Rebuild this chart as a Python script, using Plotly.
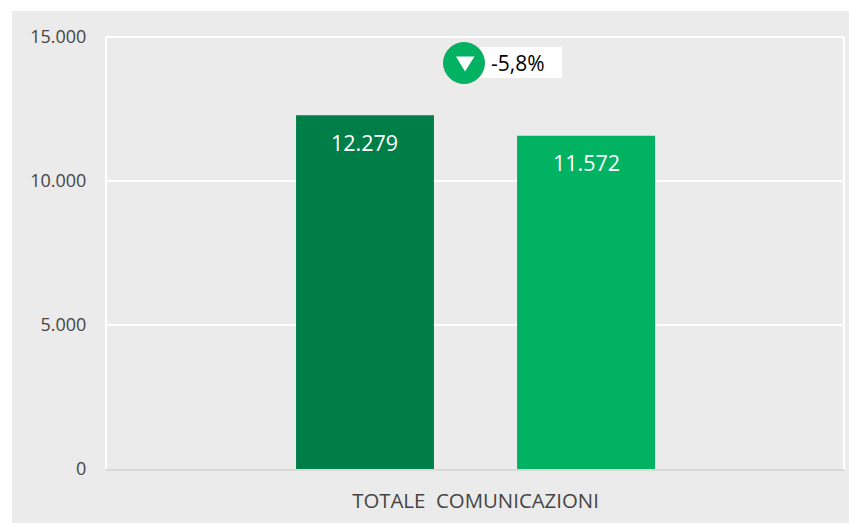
import plotly.graph_objects as go

categories = ["TOTALE  COMUNICAZIONI"]
series_names = ["Periodo precedente", "Periodo corrente"]
values_a = [12279]
values_b = [11572]
value_labels_a = ["12.279"]
value_labels_b = ["11.572"]
tick_vals = [0, 5000, 10000, 15000]
tick_text = ["0", "5.000", "10.000", "15.000"]
delta_label = "-5,8%"

W, H = 849, 523
L, R, T, B = 106, 844, 37, 469
FONT = "Open Sans"
TXT = "#454545"

def px(x):
    return (x - L) / (R - L)

def py(y):
    return (B - y) / (B - T)

fig = go.Figure()
annotations = []
for name, vals, labels, color, shift in [
    (series_names[0], values_a, value_labels_a, "#007E48", -111),
    (series_names[1], values_b, value_labels_b, "#00B262", 111),
]:
    fig.add_bar(
        x=categories, y=vals, name=name,
        marker=dict(color=color, line=dict(width=0)),
    )
    annotations.append(dict(
        x=categories[0], y=vals[0], xref="x", yref="y", text=labels[0],
        showarrow=False, xshift=shift, yshift=-27, yanchor="middle",
        font=dict(family=FONT, size=21.5, color="white"),
    ))

annotations.append(dict(
    xref="paper", yref="paper", x=px(488.5), y=py(63), xanchor="left", yanchor="middle",
    text=delta_label, showarrow=False,
    font=dict(family=FONT, size=21, color="#000000"),
))

shapes = [
    dict(type="rect", xref="paper", yref="paper", layer="below",
         x0=px(12), x1=px(849), y0=py(523), y1=py(11),
         fillcolor="#EBEBEB", line=dict(width=0)),
    dict(type="line", xref="paper", yref="paper", layer="below",
         x0=0, x1=0, y0=0, y1=1, line=dict(color="white", width=2)),
    dict(type="line", xref="paper", yref="paper", layer="below",
         x0=1, x1=1, y0=0, y1=1, line=dict(color="white", width=2)),
    dict(type="line", xref="paper", yref="paper", layer="below",
         x0=0, x1=1, y0=1, y1=1, line=dict(color="white", width=2)),
    dict(type="rect", xref="paper", yref="paper",
         x0=px(480), x1=px(562), y0=py(78), y1=py(47),
         fillcolor="white", line=dict(width=0)),
    dict(type="circle", xref="paper", yref="paper",
         x0=px(443.5), x1=px(484.5), y0=py(83.5), y1=py(42.5),
         fillcolor="#00B262", line=dict(color="#1FA866", width=1)),
    dict(type="path", xref="paper", yref="paper",
         path=f"M {px(456)} {py(56.5)} L {px(474.5)} {py(56.5)} L {px(465)} {py(71.5)} Z",
         fillcolor="white", line=dict(width=0)),
]

fig.update_layout(
    width=W, height=H, autosize=False,
    margin=dict(l=L, r=W - R, t=T, b=H - B),
    paper_bgcolor="white", plot_bgcolor="rgba(0,0,0,0)",
    barmode="group", bargap=0.401, bargroupgap=0.376,
    showlegend=False, shapes=shapes, annotations=annotations,
    font=dict(family=FONT, color=TXT),
)
fig.update_xaxes(
    range=[-0.5007, 0.4993],
    showgrid=False, showline=True, linecolor="#D9D9D9", linewidth=2,
    ticks="outside", ticklen=13, tickcolor="rgba(0,0,0,0)",
    tickfont=dict(family=FONT, size=20.4, color=TXT),
)
fig.update_yaxes(
    range=[0, 15000], tickvals=tick_vals, ticktext=tick_text,
    showgrid=True, gridcolor="white", gridwidth=2, zeroline=False, showline=False,
    ticks="outside", ticklen=15, tickcolor="rgba(0,0,0,0)",
    tickfont=dict(family=FONT, size=18, color=TXT),
)

fig.write_html("out.html", config={"displayModeBar": False},
               post_script="document.body.style.margin='0';")
